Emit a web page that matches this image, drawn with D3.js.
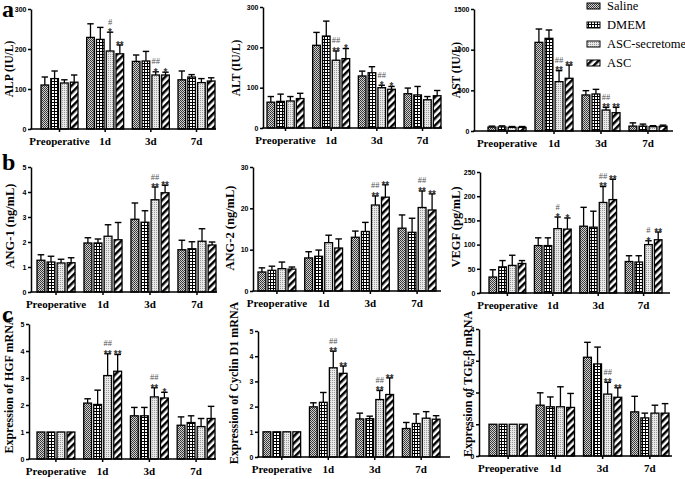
<!DOCTYPE html>
<html><head><meta charset="utf-8">
<script src="https://cdn.jsdelivr.net/npm/d3@7"></script>
<style>body{margin:0;background:#fff}</style>
</head><body>
<svg id="chart" width="685" height="479"></svg>
<script>
// ---------------- DATA ----------------
const categories = ["Preoperative", "1d", "3d", "7d"];
const series = ["Saline", "DMEM", "ASC-secretome", "ASC"];

// means[series][category], sd[series][category]
const alpMean = [[110, 229, 169, 123], [126, 224, 170, 130], [115, 195, 135, 116], [117, 188, 135, 120]];
const alpSD   = [[20, 34, 16, 22], [19, 30, 24, 6], [8, 47, 8, 10], [18, 22, 7, 8]];
const alpTicks = [0, 100, 200, 300];
const alpSig = [[1, 2, "*", "#"], [1, 3, "**", ""], [2, 2, "*", "##"], [2, 3, "*", ""]];

const altMean = [[64, 205, 129, 85], [66, 228, 137, 82], [67, 168, 100, 70], [73, 172, 96, 80]];
const altSD   = [[14, 32, 12, 14], [18, 37, 15, 21], [11, 23, 6, 8], [13, 25, 7, 13]];
const altTicks = [0, 100, 200, 300];
const altSig = [[1, 2, "**", "##"], [1, 3, "*", ""], [2, 2, "*", "##"], [2, 3, "*", ""]];

const astMean = [[48, 1090, 443, 60], [50, 1139, 455, 60], [45, 607, 258, 53], [45, 648, 225, 58]];
const astSD   = [[12, 164, 53, 40], [13, 103, 57, 25], [10, 135, 33, 12], [10, 163, 66, 14]];
const astTicks = [0, 500, 1000, 1500];
const astSig = [[1, 2, "**", "##"], [1, 3, "**", ""], [2, 2, "**", "##"], [2, 3, "**", ""]];

const ang1Mean = [[1.27, 1.96, 2.91, 1.69], [1.20, 1.96, 2.79, 1.73], [1.16, 2.23, 3.69, 2.03], [1.17, 2.09, 3.97, 1.88]];
const ang1SD   = [[0.22, 0.21, 0.65, 0.38], [0.23, 0.16, 0.46, 0.28], [0.15, 0.46, 0.51, 0.50], [0.20, 0.69, 0.30, 0.12]];
const ang1Ticks = [0, 1, 2, 3, 4, 5];
const ang1Sig = [[2, 2, "**", "##"], [2, 3, "**", ""]];

const ang2Mean = [[4.6, 8.0, 13.0, 15.2], [5.0, 8.4, 14.4, 14.2], [5.4, 11.7, 20.8, 20.2], [5.3, 10.4, 22.7, 19.6]];
const ang2SD   = [[1.0, 1.5, 1.5, 3.2], [1.0, 1.5, 2.2, 3.4], [1.6, 1.8, 2.2, 4.0], [0.5, 2.2, 3.0, 3.9]];
const ang2Ticks = [0, 10, 20, 30];
const ang2Sig = [[2, 2, "**", "##"], [2, 3, "**", ""], [3, 2, "**", "##"], [3, 3, "**", ""]];

const vegfMean = [[33, 98, 138, 65], [54, 98, 136, 64], [57, 133, 187, 100], [61, 132, 193, 110]];
const vegfSD   = [[15, 16, 39, 12], [13, 16, 33, 13], [21, 24, 33, 8], [6, 23, 42, 16]];
const vegfTicks = [0, 50, 100, 150, 200, 250];
const vegfSig = [[1, 2, "*", "#"], [1, 3, "*", ""], [2, 2, "**", "##"], [2, 3, "**", ""], [3, 2, "*", "#"], [3, 3, "**", ""]];

const hgfMean = [[1, 2.07, 1.60, 1.25], [1, 2.02, 1.60, 1.35], [1, 3.09, 2.30, 1.20], [1, 3.25, 2.26, 1.50]];
const hgfSD   = [[0, 0.16, 0.31, 0.31], [0, 0.53, 0.31, 0.25], [0, 0.81, 0.34, 0.30], [0, 0.62, 0.21, 0.45]];
const hgfTicks = [0, 1, 2, 3, 4, 5];
const hgfSig = [[1, 2, "**", "##"], [1, 3, "**", ""], [2, 2, "**", "##"], [2, 3, "*", ""]];

const cycMean = [[1, 1.99, 1.51, 1.13], [1, 2.17, 1.52, 1.33], [1, 3.54, 2.28, 1.54], [1, 3.32, 2.48, 1.50]];
const cycSD   = [[0, 0.16, 0.23, 0.24], [0, 0.39, 0.10, 0.38], [0, 0.66, 0.36, 0.26], [0, 0.29, 0.66, 0.14]];
const cycTicks = [0, 1, 2, 3, 4, 5];
const cycSig = [[1, 2, "**", "##"], [1, 3, "**", ""], [2, 2, "**", "##"], [2, 3, "**", ""]];

const tgfMean = [[1, 1.60, 3.11, 1.39], [1, 1.55, 2.90, 1.20], [1, 1.55, 1.95, 1.35], [1, 1.53, 1.85, 1.35]];
const tgfSD   = [[0, 0.39, 0.47, 0.49], [0, 0.31, 0.53, 0.15], [0, 0.63, 0.37, 0.25], [0, 0.44, 0.30, 0.30]];
const tgfTicks = [0, 1, 2, 3, 4];
const tgfSig = [[2, 2, "**", "##"], [2, 3, "**", ""]];

const titles = ["ALP (IU/L)", "ALT (IU/L)", "AST (IU/L)", "ANG-1 (ng/mL)", "ANG-2 (ng/mL)", "VEGF (pg/mL)",
  "Expression of HGF mRNA", "Expression of Cyclin D1 mRNA", "Expression of TGF-β mRNA"];
const panelLetters = ["a", "b", "c"];

// ---------------- LAYOUT ----------------
const layouts = [
  {axisX: 31, barStart: 41, barEnd: 215, axisEnd: 216, yTop: 9, y0: 129, tx: 9, ty: 69, fs: 11.5},
  {axisX: 263, barStart: 267, barEnd: 441, axisEnd: 442, yTop: 7, y0: 128, tx: 236, ty: 68, fs: 11.5},
  {axisX: 474, barStart: 488, barEnd: 667, axisEnd: 673, yTop: 9, y0: 131, tx: 456, ty: 70, fs: 11.5},
  {axisX: 31, barStart: 37, barEnd: 216, axisEnd: 217, yTop: 167, y0: 292, tx: 10, ty: 226, fs: 12.5},
  {axisX: 253, barStart: 258, barEnd: 436, axisEnd: 441, yTop: 167, y0: 291, tx: 230, ty: 228, fs: 12.5},
  {axisX: 480, barStart: 489, barEnd: 662, axisEnd: 670, yTop: 172, y0: 293, tx: 456, ty: 227, fs: 12.5},
  {axisX: 29, barStart: 37, barEnd: 215, axisEnd: 216, yTop: 324, y0: 459, tx: 9, ty: 385, fs: 12},
  {axisX: 258, barStart: 263, barEnd: 440, axisEnd: 450, yTop: 331, y0: 457, tx: 234, ty: 383, fs: 12},
  {axisX: 479, barStart: 489, barEnd: 669, axisEnd: 672, yTop: 329, y0: 456, tx: 468, ty: 384, fs: 12}
];

const panelData = [
  [alpMean, alpSD, alpTicks, alpSig], [altMean, altSD, altTicks, altSig], [astMean, astSD, astTicks, astSig],
  [ang1Mean, ang1SD, ang1Ticks, ang1Sig], [ang2Mean, ang2SD, ang2Ticks, ang2Sig], [vegfMean, vegfSD, vegfTicks, vegfSig],
  [hgfMean, hgfSD, hgfTicks, hgfSig], [cycMean, cycSD, cycTicks, cycSig], [tgfMean, tgfSD, tgfTicks, tgfSig]
];

const svg = d3.select("#chart");
const defs = svg.append("defs");

function pat(id, w, h, build, transform) {
  const p = defs.append("pattern").attr("id", id).attr("patternUnits", "userSpaceOnUse")
    .attr("width", w).attr("height", h);
  if (transform) p.attr("patternTransform", transform);
  build(p);
}
pat("pSaline", 2, 2, p => {
  p.append("rect").attr("width", 2).attr("height", 2).attr("fill", "#d0d0d0");
  p.append("rect").attr("width", 1).attr("height", 1).attr("fill", "#333");
  p.append("rect").attr("x", 1).attr("y", 1).attr("width", 1).attr("height", 1).attr("fill", "#444");
});
pat("pDMEM", 3, 3, p => {
  p.append("rect").attr("width", 3).attr("height", 3).attr("fill", "#000");
  p.append("rect").attr("x", 1).attr("y", 1).attr("width", 2).attr("height", 2).attr("fill", "#fff");
});
pat("pSec", 2, 2, p => {
  p.append("rect").attr("width", 2).attr("height", 2).attr("fill", "#e8e8e8");
  p.append("rect").attr("width", 1).attr("height", 1).attr("fill", "#999");
});
pat("pASC", 5, 5, p => {
  p.append("rect").attr("width", 5).attr("height", 5).attr("fill", "#fff");
  p.append("rect").attr("width", 2.5).attr("height", 5).attr("fill", "#000");
}, "rotate(45)");
const fills = ["url(#pSaline)", "url(#pDMEM)", "url(#pSec)", "url(#pASC)"];

const serif = "'Liberation Serif','Times New Roman',serif";
const sans = "'Liberation Sans',Arial,sans-serif";

panelData.forEach((pd, i) => {
  const [mean, sd, ticks, sig] = pd;
  const L = layouts[i];
  const g = svg.append("g");
  const yMax = ticks[ticks.length - 1];
  const y = d3.scaleLinear().domain([0, yMax]).range([L.y0, L.yTop]);
  const x0 = d3.scaleBand().domain(categories).range([L.barStart, L.barEnd]).paddingInner(0.19).paddingOuter(0);
  const x1 = d3.scaleBand().domain(series).range([0, x0.bandwidth()]).paddingInner(0.22).paddingOuter(0);

  series.forEach((s, si) => {
    categories.forEach((c, ci) => {
      const v = mean[si][ci], e = sd[si][ci];
      const bx = x0(c) + x1(s), bw = x1.bandwidth();
      const cx = bx + bw / 2;
      if (e > 0) {
        g.append("line").attr("x1", cx).attr("x2", cx).attr("y1", y(v)).attr("y2", y(v + e))
          .attr("stroke", "#000").attr("stroke-width", 1.3);
        g.append("line").attr("x1", cx - bw * 0.42).attr("x2", cx + bw * 0.42).attr("y1", y(v + e)).attr("y2", y(v + e))
          .attr("stroke", "#000").attr("stroke-width", 1.4);
      }
      g.append("rect").attr("x", bx).attr("y", y(v)).attr("width", bw).attr("height", y(0) - y(v))
        .attr("fill", fills[si]).attr("stroke", "#000").attr("stroke-width", 1.3);
    });
  });

  sig.forEach(([ci, si, star, hash]) => {
    const c = categories[ci], s = series[si];
    const cx = x0(c) + x1(s) + x1.bandwidth() / 2;
    const top = y(mean[si][ci] + sd[si][ci]);
    g.append("text").attr("x", cx).attr("y", top + 3.8).attr("text-anchor", "middle")
      .attr("font-family", sans).attr("font-weight", "bold").attr("font-size", 10).attr("fill", "#333").text(star);
    if (hash) g.append("text").attr("x", cx).attr("y", top - 7.5).attr("text-anchor", "middle")
      .attr("font-family", serif).attr("font-size", 8.5).attr("fill", "#555").text(hash);
  });

  const ya = g.append("g").attr("transform", `translate(${L.axisX},0)`)
    .call(d3.axisLeft(y).tickValues(ticks).tickSize(3).tickSizeOuter(0).tickPadding(1.5).tickFormat(d3.format("d")));
  ya.select(".domain").attr("stroke-width", 1.5);
  ya.selectAll(".tick line").attr("stroke-width", 1.5);
  ya.selectAll("text").attr("font-family", sans).attr("font-weight", "bold").attr("font-size", 7).attr("fill", "#000");

  g.append("line").attr("x1", L.axisX - 0.75).attr("x2", L.axisEnd).attr("y1", L.y0).attr("y2", L.y0)
    .attr("stroke", "#000").attr("stroke-width", 1.5);
  const xa = g.append("g").attr("transform", `translate(0,${L.y0})`)
    .call(d3.axisBottom(x0).tickSize(3).tickSizeOuter(0).tickPadding(5));
  xa.select(".domain").remove();
  xa.selectAll(".tick line").attr("stroke-width", 1.5);
  xa.selectAll("text").attr("font-family", serif).attr("font-weight", "bold").attr("font-size", 11).attr("fill", "#000");

  g.append("text").attr("transform", `translate(${L.tx},${L.ty}) rotate(-90)`).attr("dy", "0.35em")
    .attr("text-anchor", "middle").attr("font-family", serif).attr("font-weight", "bold").attr("font-size", L.fs)
    .text(titles[i]);
});

[[2, 17], [2, 170], [2, 322]].forEach(([x, yy], i) => {
  svg.append("text").attr("x", x).attr("y", yy).attr("font-family", serif).attr("font-weight", "bold")
    .attr("font-size", 24).text(panelLetters[i]);
});

const lg = svg.append("g");
series.forEach((s, si) => {
  const yy = 6 + si * 19;
  lg.append("rect").attr("x", 587).attr("y", yy - 3).attr("width", 13).attr("height", 6)
    .attr("fill", fills[si]).attr("stroke", "#000").attr("stroke-width", 1);
  lg.append("text").attr("x", 607).attr("y", yy).attr("dy", "0.35em").attr("font-family", serif)
    .attr("font-size", 12.5).text(s);
});
</script>
</body></html>
